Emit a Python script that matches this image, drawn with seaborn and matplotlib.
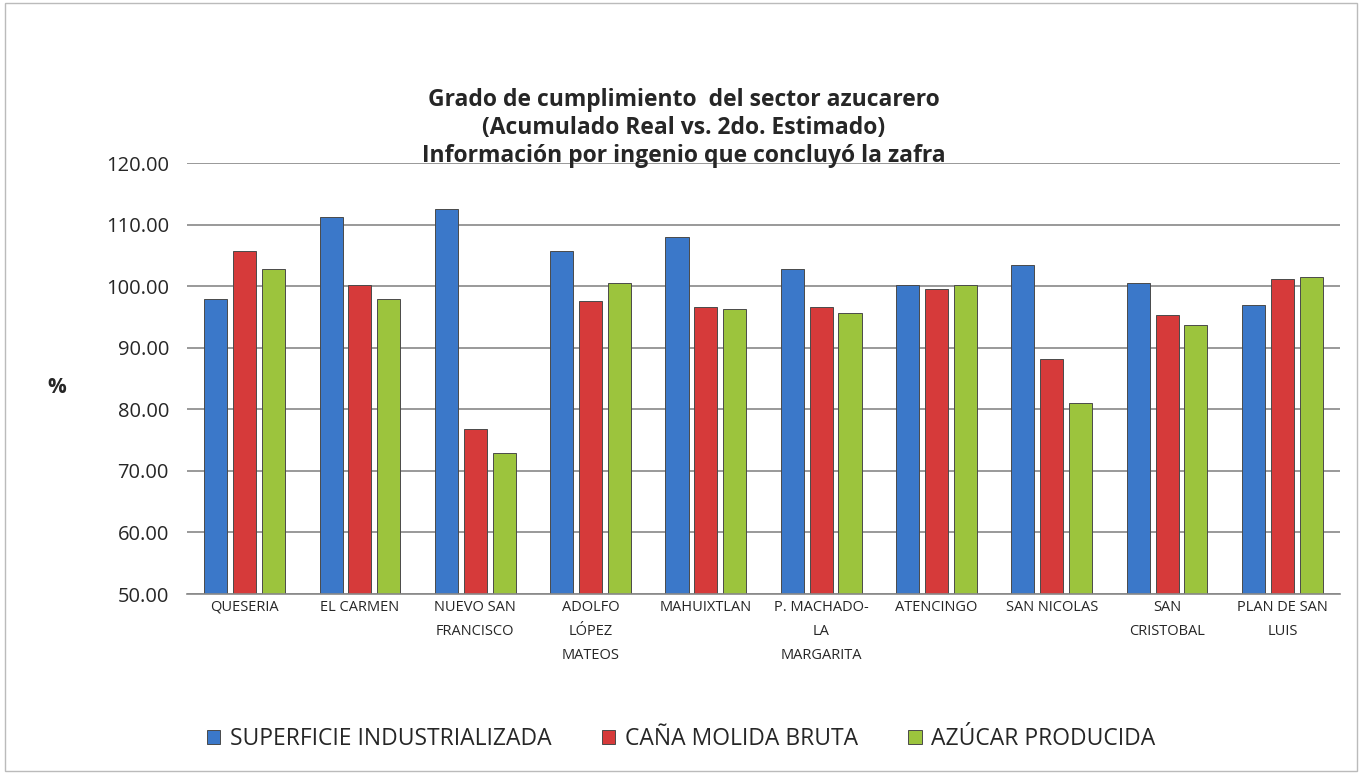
import numpy as np
import pandas as pd
import matplotlib
matplotlib.use("Agg")
import matplotlib.pyplot as plt
import seaborn as sns

ingenios = ["QUESERIA", "EL CARMEN", "NUEVO SAN\nFRANCISCO", "ADOLFO\nLÓPEZ\nMATEOS",
            "MAHUIXTLAN", "P. MACHADO-\nLA\nMARGARITA", "ATENCINGO", "SAN NICOLAS",
            "SAN\nCRISTOBAL", "PLAN DE SAN\nLUIS"]
superficie = [97.9, 111.2, 112.5, 105.7, 108.0, 102.8, 100.2, 103.4, 100.5, 96.9]
cana = [105.7, 100.2, 76.8, 97.6, 96.6, 96.6, 99.5, 88.2, 95.3, 101.2]
azucar = [102.8, 97.9, 72.9, 100.5, 96.3, 95.6, 100.2, 81.0, 93.7, 101.5]
series = ["SUPERFICIE INDUSTRIALIZADA", "CAÑA MOLIDA BRUTA", "AZÚCAR PRODUCIDA"]
colores = ["#3b78c9", "#d63a3a", "#9cc43d"]

df = pd.DataFrame({
    "ingenio": ingenios * 3,
    "serie": np.repeat(series, len(ingenios)),
    "valor": superficie + cana + azucar,
})

sns.set_style("white")
plt.rcParams["font.family"] = ["Open Sans", "DejaVu Sans"]

fig = plt.figure(figsize=(13.62, 7.74), dpi=100)
ax = fig.add_axes([187 / 1362, 1 - 594 / 774, (1340 - 187) / 1362, (594 - 163) / 774])

sns.barplot(data=df, x="ingenio", y="valor", hue="serie", palette=colores,
            width=0.75, gap=0.2, edgecolor="#4a4a4a", linewidth=0.7,
            saturation=1, ax=ax, legend=True)

ax.set_ylim(50, 120)
ax.set_yticks(np.arange(50, 121, 10))
ax.set_yticklabels([f"{v:.2f}" for v in np.arange(50, 121, 10)], fontsize=14.5)
ax.yaxis.grid(True, color="#888888", linewidth=1.2)
ax.set_axisbelow(True)
for s in ["top", "right", "left"]:
    ax.spines[s].set_visible(False)
ax.spines["bottom"].set_color("#888888")
ax.spines["bottom"].set_linewidth(1.2)
ax.tick_params(axis="y", length=0, pad=13)
ax.tick_params(axis="x", length=0, pad=4)
ax.set_xlim(-0.5, len(ingenios) - 0.5)
ax.set_xticks(range(len(ingenios)))
ax.set_xticklabels(ingenios, fontsize=10.5, linespacing=1.85, va="top")
ax.set_xlabel("")
ax.set_ylabel("%", fontsize=15, fontweight="bold", rotation=0, labelpad=0)
ax.yaxis.set_label_coords(-0.113, 0.455)

fig.text(0.502, 1 - 128 / 774,
         "Grado de cumplimiento  del sector azucarero\n(Acumulado Real vs. 2do. Estimado)\nInformación por ingenio que concluyó la zafra",
         ha="center", va="center", fontsize=16.5, fontweight="bold", linespacing=1.2)

handles, labels = ax.get_legend_handles_labels()
ax.legend_.remove()
fig.legend(handles, labels, loc="center", bbox_to_anchor=(0.5, 1 - 739 / 774),
           ncol=3, frameon=False, fontsize=16.5, handlelength=0.6, handleheight=0.6,
           columnspacing=2.2, handletextpad=0.4)

fig.patches.append(plt.Rectangle((0.004, 0.004), 0.992, 0.992, transform=fig.transFigure,
                                 fill=False, edgecolor="#bbbbbb", linewidth=1))

fig.savefig("out.png", dpi=100)
